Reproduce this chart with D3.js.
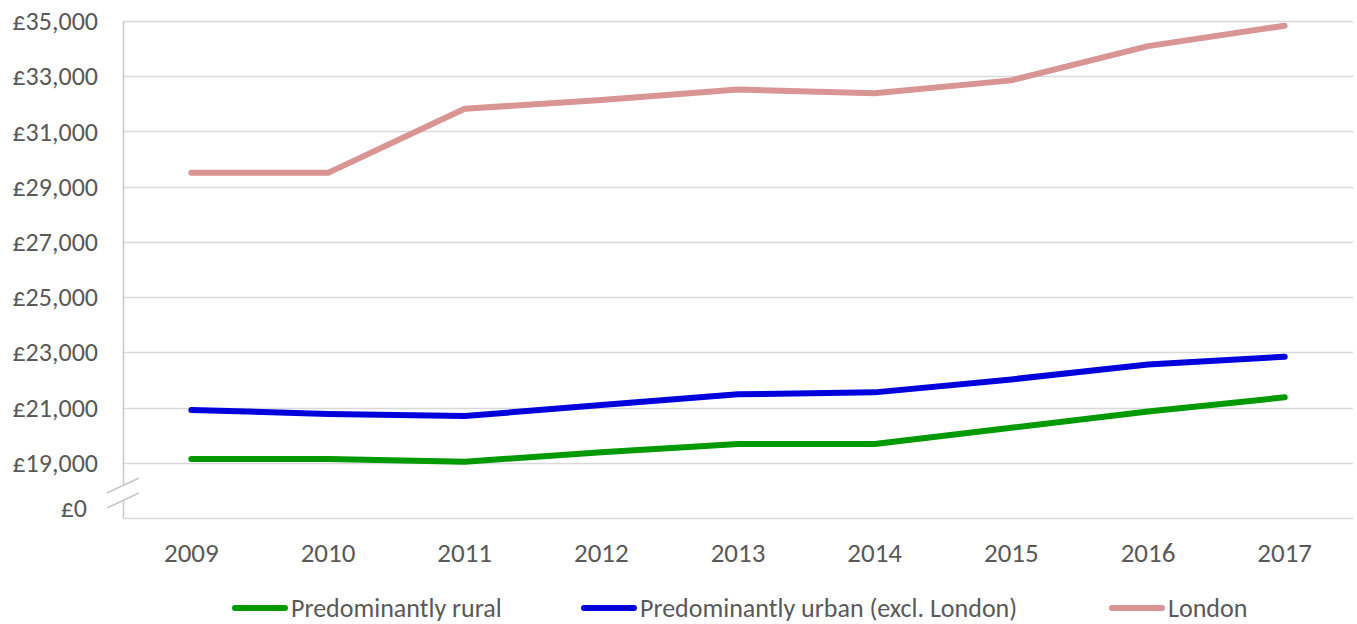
<!DOCTYPE html>
<html>
<head>
<meta charset="utf-8">
<script src="https://cdn.jsdelivr.net/npm/d3@7"></script>
<style>
  body { margin: 0; background: #fff; }
  text { font-family: Carlito, Calibri, "Open Sans", sans-serif; fill: #595959; }
</style>
</head>
<body>
<script>
const width = 1357;
const height = 624;

const years = ["2009", "2010", "2011", "2012", "2013", "2014", "2015", "2016", "2017"];
const rural = [19140, 19140, 19040, 19380, 19680, 19680, 20270, 20860, 21370];
const urban = [20910, 20770, 20690, 21090, 21480, 21550, 22020, 22560, 22840];
const london = [29500, 29500, 31820, 32140, 32520, 32380, 32850, 34090, 34830];
const yTicks = [19000, 21000, 23000, 25000, 27000, 29000, 31000, 33000, 35000];
const seriesNames = ["Predominantly rural", "Predominantly urban (excl. London)", "London"];
const seriesColors = ["#009900", "#0000dd", "#d99594"];

const margin = { top: 21, bottom: 106, left: 123, right: 4 };

const svg = d3.select('body').append('svg')
    .attr('width', width)
    .attr('height', height);

// x is a band scale, lines sit on band centres
const xScale = d3.scaleBand()
    .domain(years)
    .range([margin.left, width - margin.right]);

// axis bottom is really 17,000 - the £0 label is faked with a break
const yScale = d3.scaleLinear()
    .domain([17000, 35000])
    .range([height - margin.bottom, margin.top]);

// gridlines
svg.append('g')
    .selectAll('line')
    .data(yTicks)
    .enter()
    .append('line')
    .attr('x1', margin.left)
    .attr('x2', width - margin.right)
    .attr('y1', d => Math.round(yScale(d)) + 0.5)
    .attr('y2', d => Math.round(yScale(d)) + 0.5)
    .attr('stroke', '#d9d9d9')
    .attr('stroke-width', 1.5);

// y labels
const fmt = d3.format(",");
svg.append('g')
    .selectAll('text')
    .data(yTicks)
    .enter()
    .append('text')
    .attr('x', 98)
    .attr('y', d => yScale(d))
    .attr('dy', '0.35em')
    .attr('text-anchor', 'end')
    .attr('font-size', 26)
    .text(d => "£" + fmt(d));

svg.append('text')
    .attr('x', 87)
    .attr('y', yScale(17000) - 10)
    .attr('dy', '0.35em')
    .attr('text-anchor', 'end')
    .attr('font-size', 26)
    .text("£0");

// axis lines
const y0 = Math.round(yScale(17000)) + 0.5;
svg.append('line')
    .attr('x1', margin.left + 0.5).attr('x2', margin.left + 0.5)
    .attr('y1', margin.top).attr('y2', y0)
    .attr('stroke', '#c8c8c8').attr('stroke-width', 1.5);
svg.append('line')
    .attr('x1', margin.left).attr('x2', width - margin.right)
    .attr('y1', y0).attr('y2', y0)
    .attr('stroke', '#d9d9d9').attr('stroke-width', 1.5);

// axis break
const brk = svg.append('g');
brk.append('polygon')
    .attr('points', `107,493 139,478 139,493 107,508`)
    .attr('fill', '#fff');
brk.append('line').attr('x1', 107).attr('y1', 493).attr('x2', 139).attr('y2', 478)
    .attr('stroke', '#c8c8c8').attr('stroke-width', 1.5);
brk.append('line').attr('x1', 107).attr('y1', 508).attr('x2', 139).attr('y2', 493)
    .attr('stroke', '#c8c8c8').attr('stroke-width', 1.5);

// x labels
svg.append('g')
    .selectAll('text')
    .data(years)
    .enter()
    .append('text')
    .attr('x', d => xScale(d) + xScale.bandwidth() / 2)
    .attr('y', 553)
    .attr('dy', '0.35em')
    .attr('text-anchor', 'middle')
    .attr('font-size', 27)
    .text(d => d);

// lines
const allSeries = [rural, urban, london];
const lineGen = d3.line()
    .x((d, i) => xScale(years[i]) + xScale.bandwidth() / 2)
    .y(d => yScale(d));

svg.append('g')
    .selectAll('path')
    .data(allSeries)
    .enter()
    .append('path')
    .attr('d', d => lineGen(d))
    .attr('fill', 'none')
    .attr('stroke', (d, i) => seriesColors[i])
    .attr('stroke-width', 6)
    .attr('stroke-linecap', 'round')
    .attr('stroke-linejoin', 'round');

// legend
const legendX = [233, 582, 1110];
const legend = svg.append('g')
    .selectAll('g')
    .data(seriesNames)
    .enter()
    .append('g')
    .attr('transform', (d, i) => `translate(${legendX[i]},608)`);

legend.append('line')
    .attr('x1', 2).attr('x2', 52)
    .attr('stroke', (d, i) => seriesColors[i])
    .attr('stroke-width', 6)
    .attr('stroke-linecap', 'round');

legend.append('text')
    .attr('x', 58)
    .attr('dy', '0.33em')
    .attr('font-size', 26)
    .text(d => d);
</script>
</body>
</html>
